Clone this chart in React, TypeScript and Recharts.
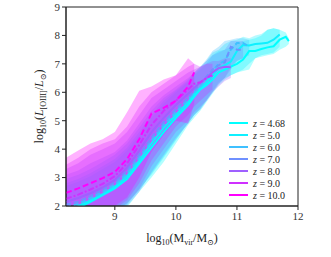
import React from 'react';
import { ComposedChart, Area, Line, XAxis, YAxis, Legend, Label, ReferenceArea } from 'recharts';

// halo mass grid, log10(Mvir/Msun)
const MASS = [8.2, 8.4, 8.6, 8.8, 9.0, 9.2, 9.4, 9.6, 9.8, 10.0, 10.2, 10.3, 10.4, 10.5, 10.6, 10.7, 10.8, 10.9, 11.0, 11.1, 11.2, 11.3, 11.4, 11.5, 11.6, 11.7, 11.8, 11.85];

const Z_LABELS = ['4.68', '5.0', '6.0', '7.0', '8.0', '9.0', '10.0'];

// medians and 16/84 percentile bands, one set per redshift
const MED_Z468 = [1.75, 1.93, 2.15, 2.38, 2.62, 2.95, 3.5, 4.05, 4.6, 5.1, 5.55, 5.85, 6.1, 6.25, 6.45, 6.7, 6.8, 6.9, 7.0, 7.15, 7.45, 7.45, 7.52, 7.58, 7.62, 7.85, 7.95, 7.8];
const LO_Z468 = [0.8, 0.9, 1.1, 1.3, 1.6, 1.95, 2.5, 3.0, 3.55, 4.2, 4.85, 5.1, 5.35, 5.65, 5.95, 6.25, 6.45, 6.6, 6.7, 6.75, 6.8, 7.2, 7.25, 7.3, 7.35, 7.5, 7.6, 7.7];
const HI_Z468 = [2.7, 2.85, 3.05, 3.3, 3.55, 3.95, 4.5, 5.1, 5.6, 6.0, 6.35, 6.6, 6.8, 7.0, 7.3, 7.45, 7.5, 7.6, 7.7, 7.8, 7.85, 7.9, 8.0, 8.2, 8.25, 8.2, 8.1, 7.9];

const MED_Z5 = [1.85, 2.0, 2.2, 2.42, 2.68, 3.05, 3.6, 4.2, 4.75, 5.2, 5.65, 5.95, 6.15, 6.35, 6.6, 6.85, 6.95, 7.08, 7.45, 7.66, 7.65, 7.7, 7.72, 7.74, 7.85, 8.03];
const LO_Z5 = [0.9, 1.0, 1.2, 1.4, 1.7, 2.05, 2.6, 3.1, 3.7, 4.3, 4.95, 5.2, 5.45, 5.75, 6.05, 6.35, 6.5, 6.6, 6.7, 6.8, 7.0, 7.2, 7.3, 7.35, 7.4, 7.6];
const HI_Z5 = [2.8, 2.95, 3.15, 3.4, 3.65, 4.05, 4.6, 5.2, 5.7, 6.05, 6.4, 6.65, 6.85, 7.1, 7.4, 7.5, 7.7, 7.8, 7.85, 7.95, 7.9, 8.0, 8.05, 8.2, 8.25, 8.2];

const MED_Z6 = [1.95, 2.08, 2.28, 2.5, 2.75, 3.15, 3.7, 4.3, 4.85, 5.3, 5.75, 6.0, 6.2, 6.45, 6.75, 7.0, 7.1, 7.5, 7.73, 7.73, 7.6];
const LO_Z6 = [0.95, 1.05, 1.25, 1.5, 1.8, 2.1, 2.55, 3.15, 3.75, 4.35, 4.9, 5.2, 5.4, 5.7, 6.0, 6.3, 6.5, 6.8, 7.1, 7.2, 7.3];
const HI_Z6 = [2.95, 3.1, 3.3, 3.55, 3.8, 4.2, 4.75, 5.35, 5.8, 6.1, 6.45, 6.7, 6.9, 7.15, 7.45, 7.6, 7.8, 7.85, 7.9, 7.9, 7.85];

const MED_Z7 = [2.05, 2.15, 2.35, 2.58, 2.85, 3.25, 3.8, 4.4, 4.95, 5.4, 5.8, 6.05, 6.3, 6.55, 6.8, 6.95, 7.05, 7.6, 7.5, 7.5];
const LO_Z7 = [1.0, 1.1, 1.3, 1.55, 1.8, 2.0, 2.5, 3.2, 3.8, 4.4, 4.9, 5.2, 5.4, 5.7, 6.0, 6.3, 6.5, 6.9, 7.1, 7.2];
const HI_Z7 = [3.1, 3.25, 3.5, 3.7, 3.9, 4.3, 4.9, 5.5, 5.9, 6.2, 6.5, 6.7, 6.9, 7.1, 7.3, 7.4, 7.5, 7.8, 7.8, 7.8];

const MED_Z8 = [2.15, 2.28, 2.45, 2.65, 2.92, 3.35, 3.95, 4.6, 5.1, 5.55, 5.95, 6.15, 6.35, 6.5, 6.7, 6.85, 6.9, 6.88];
const LO_Z8 = [1.1, 1.2, 1.4, 1.6, 1.8, 2.1, 2.6, 3.4, 4.0, 4.6, 5.0, 5.3, 5.5, 5.7, 6.0, 6.2, 6.4, 6.5];
const HI_Z8 = [3.3, 3.5, 3.8, 4.0, 4.2, 4.6, 5.2, 5.8, 6.1, 6.4, 6.7, 6.8, 6.9, 7.0, 7.1, 7.1, 7.2, 7.2];

const MED_Z9 = [2.25, 2.4, 2.58, 2.78, 3.05, 3.5, 4.15, 4.85, 5.35, 5.7, 6.1, 6.3, 6.35, 6.5, 6.6];
const LO_Z9 = [1.2, 1.3, 1.5, 1.7, 1.9, 2.2, 2.8, 3.6, 4.2, 4.8, 5.2, 5.5, 5.7, 5.9, 6.1];
const HI_Z9 = [3.45, 3.7, 4.0, 4.2, 4.35, 4.8, 5.5, 6.0, 6.3, 6.6, 6.9, 7.0, 6.9, 7.0, 7.0];

const MED_Z10 = [2.46, 2.62, 2.8, 2.98, 3.2, 3.65, 4.35, 5.25, 5.45, 5.7, 6.2, 6.7];
const LO_Z10 = [1.3, 1.4, 1.6, 1.8, 2.0, 2.3, 3.0, 3.9, 4.5, 5.0, 4.9, 5.6];
const HI_Z10 = [3.7, 3.95, 4.2, 4.35, 4.6, 5.3, 6.05, 6.2, 6.45, 6.6, 7.2, 7.0];

const MEDS = [MED_Z468, MED_Z5, MED_Z6, MED_Z7, MED_Z8, MED_Z9, MED_Z10];
const LOS = [LO_Z468, LO_Z5, LO_Z6, LO_Z7, LO_Z8, LO_Z9, LO_Z10];
const HIS = [HI_Z468, HI_Z5, HI_Z6, HI_Z7, HI_Z8, HI_Z9, HI_Z10];

const X_TICKS = [9, 10, 11, 12];
const Y_TICKS = [2, 3, 4, 5, 6, 7, 8, 9];

// matplotlib 'cool' colormap sampled at each redshift
const COLORS = ['#00ffff', '#0ff0ff', '#3fc0ff', '#6f90ff', '#9f60ff', '#cf30ff', '#ff00ff'];
const DASHES = [undefined, undefined, '5 3', '5 3', undefined, '6 2 2 2', '6 3'];

const FONT = 'Liberation Serif, DejaVu Serif, serif';

const data = MASS.map((m, j) => {
  const row: Record<string, any> = { m };
  MEDS.forEach((med, i) => {
    row[`m${i}`] = j < med.length ? med[j] : null;
    row[`b${i}`] = j < med.length ? [LOS[i][j], HIS[i][j]] : null;
  });
  return row;
});

const XTitle = (props: any) => {
  const { viewBox } = props;
  const cx = viewBox.x + viewBox.width / 2;
  const y = viewBox.y + 36;
  return (
    <text x={cx} y={y} textAnchor="middle" fontFamily={FONT} fontSize={12} fill="#222">
      log<tspan fontSize={8} dy={3}>10</tspan>
      <tspan dy={-3}>(M</tspan>
      <tspan fontSize={8} dy={3}>vir</tspan>
      <tspan dy={-3}>/M</tspan>
      <tspan fontSize={8} dy={3}>⊙</tspan>
      <tspan dy={-3}>)</tspan>
    </text>
  );
};

const YTitle = (props: any) => {
  const { viewBox } = props;
  const x = 43;
  const cy = viewBox.y + viewBox.height / 2;
  return (
    <text x={x} y={cy} transform={`rotate(-90, ${x}, ${cy})`} textAnchor="middle" fontFamily={FONT} fontSize={12} fill="#222">
      log<tspan fontSize={8} dy={3}>10</tspan>
      <tspan dy={-3}>(</tspan>
      <tspan fontStyle="italic">L</tspan>
      <tspan fontSize={8} dy={3}>[OIII]</tspan>
      <tspan dy={-3}>/</tspan>
      <tspan fontStyle="italic">L</tspan>
      <tspan fontSize={8} dy={3}>⊙</tspan>
      <tspan dy={-3}>)</tspan>
    </text>
  );
};

const renderLegend = () => (
  <svg width={75} height={86} style={{ display: 'block' }}>
    {Z_LABELS.map((z, i) => (
      <g key={z}>
        <line x1={0} x2={19} y1={6 + i * 12} y2={6 + i * 12} stroke={COLORS[i]} strokeWidth={2} />
        <text x={24} y={9.5 + i * 12} fontFamily={FONT} fontSize={10} fill="#222">
          <tspan fontStyle="italic">z</tspan> = {z}
        </text>
      </g>
    ))}
  </svg>
);

export default function App() {
  return (
    <div style={{ position: 'absolute', left: 0, top: 0, background: '#fff' }}>
      <ComposedChart width={331} height={257} data={data} margin={{ top: 7, right: 33, bottom: 0, left: 0 }}>
        <XAxis
          dataKey="m"
          type="number"
          domain={[8.2, 12]}
          ticks={X_TICKS}
          allowDataOverflow
          height={51}
          tickSize={4}
          stroke="#222"
          tick={{ fontFamily: FONT, fontSize: 11, fill: '#333' }}
        >
          <Label content={<XTitle />} />
        </XAxis>
        <YAxis
          type="number"
          domain={[2, 9]}
          ticks={Y_TICKS}
          allowDataOverflow
          width={66}
          tickSize={4}
          stroke="#222"
          tick={{ fontFamily: FONT, fontSize: 11, fill: '#333' }}
        >
          <Label content={<YTitle />} />
        </YAxis>
        {MEDS.map((_, i) => (
          <Area
            key={`b${i}`}
            dataKey={`b${i}`}
            type="linear"
            stroke="none"
            fill={COLORS[i]}
            fillOpacity={0.3}
            isAnimationActive={false}
            connectNulls={false}
          />
        ))}
        {MEDS.map((_, i) => (
          <Line
            key={`m${i}`}
            dataKey={`m${i}`}
            type="linear"
            stroke={COLORS[i]}
            strokeWidth={2}
            strokeDasharray={DASHES[i]}
            dot={false}
            isAnimationActive={false}
            connectNulls={false}
          />
        ))}
        <ReferenceArea x1={8.2} x2={12} y1={2} y2={9} fill="none" stroke="#222" strokeWidth={1} ifOverflow="visible" />
        <Legend
          layout="vertical"
          align="center"
          verticalAlign="middle"
          wrapperStyle={{ left: 229, top: 117, width: 75, height: 86 }}
          content={renderLegend}
        />
      </ComposedChart>
    </div>
  );
}
